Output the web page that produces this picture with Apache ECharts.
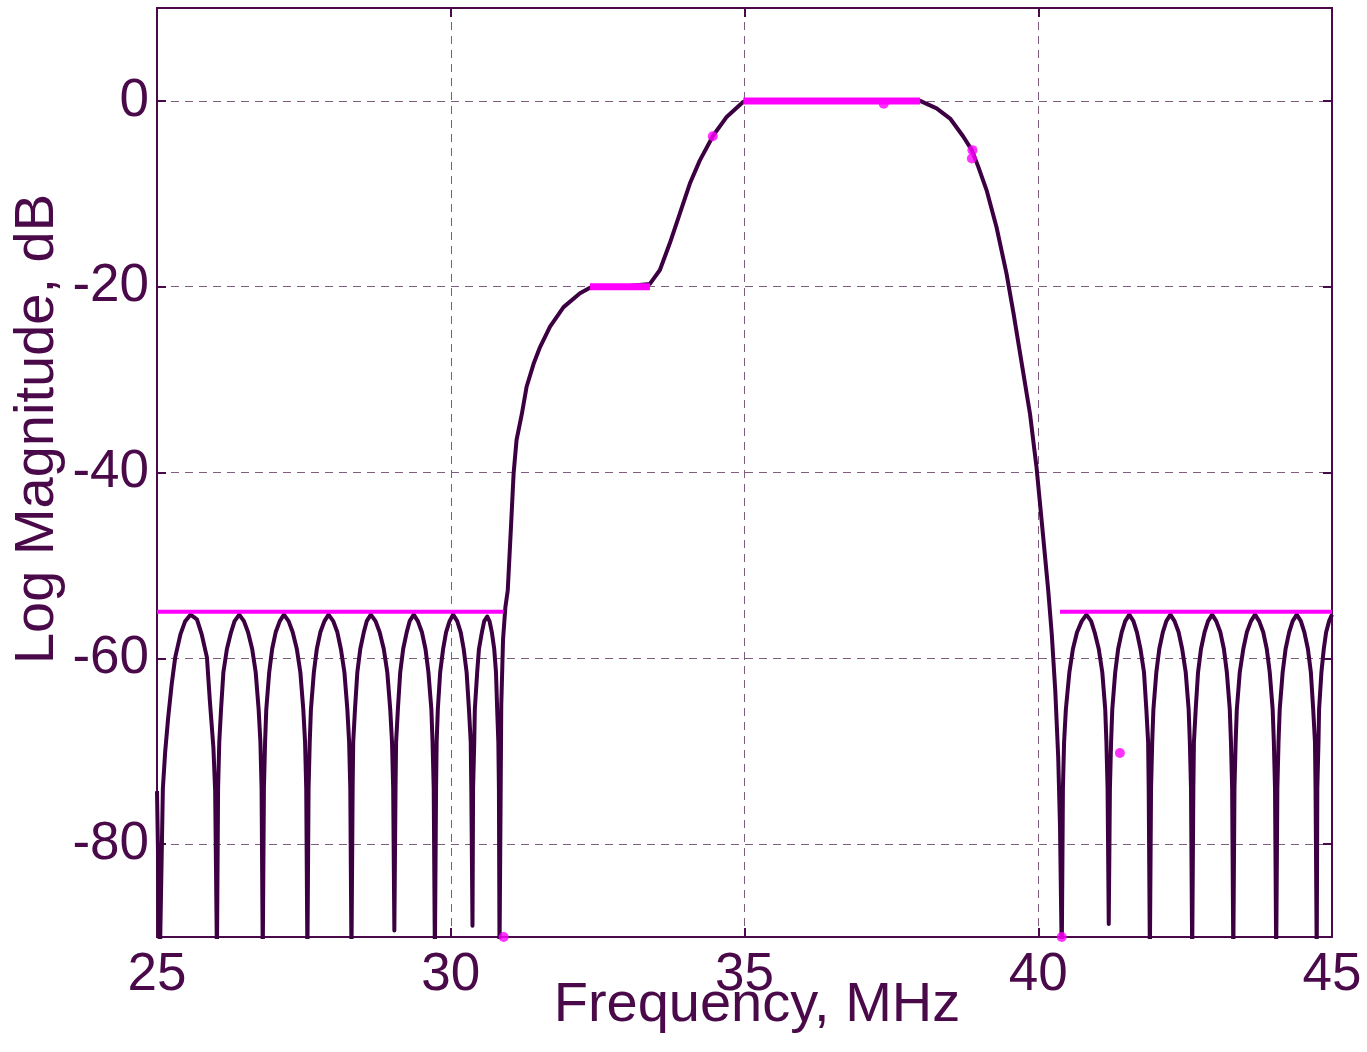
<!DOCTYPE html>
<html>
<head>
<meta charset="UTF-8">
<title>filter response</title>
<style>html,body{margin:0;padding:0;background:#fff}#chart{width:1367px;height:1052px}</style>
<script src="https://cdn.jsdelivr.net/npm/echarts@6/dist/echarts.min.js"></script>
</head>
<body>
<div id="chart"></div>
<script>
// axis ranges / ticks
const xRange = [25, 45];
const yRange = [-90, 10];

// measured response, [MHz, dB] - stopband lobes below 31 MHz
const leftLobes = [
  [25.00,-74.3],[25.03,-86],[25.05,-92],[25.10,-74],[25.14,-70],[25.19,-66.4],[25.25,-62.8],[25.31,-59.9],[25.40,-57.4],[25.48,-56],[25.57,-55.3],
  [25.68,-55.8],[25.76,-57.4],[25.85,-59.9],[25.90,-64.6],[25.96,-69.6],[25.99,-74.3],[26.02,-92],
  [26.04,-74],[26.06,-69],[26.09,-65.5],[26.13,-61.5],[26.19,-59],[26.26,-57.2],[26.32,-56],[26.40,-55.3],
  [26.48,-56],[26.55,-57.2],[26.62,-59],[26.68,-61.5],[26.73,-65.5],[26.76,-69],[26.78,-74],[26.80,-92],
  [26.82,-74],[26.84,-69],[26.86,-65.5],[26.91,-61.5],[26.96,-59],[27.02,-57.2],[27.09,-56],[27.16,-55.3],
  [27.24,-56],[27.31,-57.2],[27.38,-59],[27.44,-61.5],[27.49,-65.5],[27.52,-69],[27.54,-74],[27.56,-92],
  [27.58,-74],[27.60,-69],[27.62,-65.5],[27.67,-61.5],[27.72,-59],[27.78,-57.2],[27.85,-56],[27.92,-55.3],
  [28.00,-56],[28.07,-57.2],[28.13,-59],[28.19,-61.5],[28.24,-65.5],[28.27,-69],[28.29,-74],[28.31,-92],
  [28.33,-74],[28.34,-69],[28.37,-65.5],[28.41,-61.5],[28.46,-59],[28.52,-57.2],[28.57,-56],[28.64,-55.3],
  [28.72,-56],[28.79,-57.2],[28.86,-59],[28.92,-61.5],[28.97,-65.5],[29.00,-69],[29.02,-74],[29.04,-89.3],
  [29.06,-74],[29.07,-69],[29.10,-65.5],[29.14,-61.5],[29.19,-59],[29.25,-57.2],[29.30,-56],[29.37,-55.3],
  [29.44,-56],[29.51,-57.2],[29.57,-59],[29.62,-61.5],[29.67,-65.5],[29.69,-69],[29.71,-74],[29.73,-92],
  [29.75,-74],[29.76,-69],[29.78,-65.5],[29.82,-61.5],[29.87,-59],[29.92,-57.2],[29.98,-56],[30.04,-55.3],
  [30.11,-56],[30.17,-57.2],[30.22,-59],[30.27,-61.5],[30.31,-65.5],[30.34,-69],[30.35,-74],[30.37,-88.8],
  [30.38,-74],[30.40,-69],[30.41,-65.5],[30.45,-61.5],[30.48,-59],[30.53,-57.2],[30.57,-56],[30.62,-55.5],
  [30.66,-56],[30.70,-57.2],[30.74,-59],[30.77,-61.5],[30.79,-65.5],[30.81,-69],[30.82,-74],[30.83,-92]
];

// transition bands and passband
const passBand = [
  [30.86,-65],[30.89,-58],[30.93,-54.5],[30.97,-52.7],[31.02,-46.5],[31.07,-40.1],[31.12,-36.5],[31.21,-33.7],
  [31.29,-30.8],[31.41,-28.3],[31.52,-26.5],[31.69,-24.3],[31.92,-22.2],[32.20,-20.7],[32.37,-20.1],[32.90,-20.0],
  [33.39,-19.7],[33.56,-18.2],[33.73,-15.3],[33.90,-12.1],[34.07,-8.9],[34.24,-6.4],[34.47,-3.7],[34.70,-1.7],
  [34.98,-0.1],[35.50,0],[36.50,0],[37.50,0],[37.99,0],[38.27,-0.8],[38.50,-1.9],[38.72,-3.8],[38.87,-5.3],
  [38.98,-7.1],[39.12,-9.6],[39.29,-13.6],[39.46,-18.6],[39.58,-22.9],[39.72,-28.3],[39.86,-33.7],[39.97,-39.4],
  [40.07,-46],[40.17,-52.7],[40.23,-57.4],[40.29,-63.5],[40.34,-70.7],[40.37,-78],[40.40,-92]
];

// stopband lobes above 40 MHz
const rightLobes = [
  [40.42,-74],[40.44,-69],[40.47,-65.5],[40.53,-61.5],[40.59,-59],[40.66,-57.2],[40.74,-56],[40.82,-55.3],
  [40.90,-56],[40.96,-57.2],[41.03,-59],[41.09,-61.5],[41.14,-65.5],[41.16,-69],[41.18,-74],[41.20,-88.6],
  [41.22,-74],[41.24,-69],[41.26,-65.5],[41.31,-61.5],[41.36,-59],[41.42,-57.2],[41.48,-56],[41.55,-55.3],
  [41.62,-56],[41.68,-57.2],[41.74,-59],[41.80,-61.5],[41.84,-65.5],[41.87,-69],[41.88,-74],[41.90,-92],
  [41.92,-74],[41.94,-69],[41.96,-65.5],[42.01,-61.5],[42.06,-59],[42.12,-57.2],[42.18,-56],[42.25,-55.3],
  [42.32,-56],[42.39,-57.2],[42.45,-59],[42.51,-61.5],[42.56,-65.5],[42.58,-69],[42.60,-74],[42.62,-92],
  [42.64,-74],[42.65,-69],[42.68,-65.5],[42.72,-61.5],[42.77,-59],[42.83,-57.2],[42.89,-56],[42.96,-55.3],
  [43.03,-56],[43.10,-57.2],[43.16,-59],[43.21,-61.5],[43.26,-65.5],[43.28,-69],[43.30,-74],[43.32,-92],
  [43.34,-74],[43.36,-69],[43.38,-65.5],[43.43,-61.5],[43.49,-59],[43.55,-57.2],[43.62,-56],[43.69,-55.3],
  [43.76,-56],[43.83,-57.2],[43.89,-59],[43.94,-61.5],[43.99,-65.5],[44.01,-69],[44.03,-74],[44.05,-92],
  [44.07,-74],[44.09,-69],[44.11,-65.5],[44.16,-61.5],[44.21,-59],[44.27,-57.2],[44.33,-56],[44.40,-55.3],
  [44.47,-56],[44.53,-57.2],[44.59,-59],[44.64,-61.5],[44.68,-65.5],[44.71,-69],[44.72,-74],[44.74,-92],
  [44.75,-74],[44.77,-69],[44.78,-65.5],[44.82,-61.5],[44.86,-59],[44.90,-57.2],[44.95,-56],[45.00,-55.3]
];

// spec mask (magenta)
const stopMaskLeft = [[25, -55], [30.9, -55]];
const stopMaskRight = [[40.37, -55], [45, -55]];
const passMaskLow = [[32.37, -20], [33.39, -20]];
const passMaskHigh = [[34.98, 0], [37.99, 0]];
const markerDots = [[34.46,-3.8],[37.37,-0.3],[38.88,-5.3],[38.87,-6.2],[41.39,-70.2],[30.90,-90],[40.40,-90]];

const textColor = '#4a0a4a';
const curveColor = '#3c0042';
const maskColor = '#ff00ff';
const gridColor = '#7d5c7d';
const fontFamily = '"Liberation Sans", Arial, sans-serif';

const chart = echarts.init(document.getElementById('chart'));

function maskLine(data, width) {
  return {
    type: 'line', data: data, xAxisIndex: 0, yAxisIndex: 0,
    showSymbol: false, symbol: 'none', z: 4, silent: true,
    lineStyle: { color: maskColor, width: width }
  };
}

function boxAxis(pos) {
  // mirrored axis with inside ticks, no labels (closes the box)
  return {
    type: 'value', position: pos,
    min: pos === 'top' ? xRange[0] : yRange[0],
    max: pos === 'top' ? xRange[1] : yRange[1],
    interval: pos === 'top' ? 5 : undefined,
    axisLine: { show: true, onZero: false, lineStyle: { color: textColor, width: 2 } },
    axisTick: { show: true, inside: true, length: 9, lineStyle: { color: textColor, width: 2 } },
    axisLabel: { show: false }, splitLine: { show: false }
  };
}

chart.setOption({
  animation: false,
  backgroundColor: '#fff',
  grid: { left: 157, right: 35, top: 8, bottom: 115, show: true, borderColor: textColor, borderWidth: 2 },
  xAxis: [
    {
      type: 'value', min: xRange[0], max: xRange[1], interval: 5,
      axisLine: { show: true, onZero: false, lineStyle: { color: textColor, width: 2 } },
      axisTick: { show: true, inside: true, length: 9, lineStyle: { color: textColor, width: 2 } },
      axisLabel: { color: textColor, fontSize: 53, fontFamily: fontFamily, margin: 12 },
      splitLine: { show: true, lineStyle: { color: gridColor, width: 1, type: [8, 6] } }
    },
    boxAxis('top')
  ],
  yAxis: [
    {
      type: 'value', min: yRange[0], max: yRange[1],
      axisLine: { show: true, onZero: false, lineStyle: { color: textColor, width: 2 } },
      axisTick: { show: true, inside: true, length: 9, lineStyle: { color: textColor, width: 2 } },
      axisLabel: { color: textColor, fontSize: 53, fontFamily: fontFamily, margin: 8, showMinLabel: false, showMaxLabel: false },
      splitLine: { show: true, lineStyle: { color: gridColor, width: 1, type: [8, 6] } }
    },
    boxAxis('right')
  ],
  graphic: [
    {
      type: 'text', x: 757, y: 1006, silent: true,
      style: { text: 'Frequency, MHz', fill: textColor, font: '56px ' + fontFamily, textAlign: 'center', textVerticalAlign: 'middle' }
    },
    {
      type: 'text', x: 38, y: 429, rotation: Math.PI / 2, silent: true,
      style: { text: 'Log Magnitude, dB', fill: textColor, font: '56px ' + fontFamily, textAlign: 'center', textVerticalAlign: 'middle' }
    }
  ],
  series: [
    {
      type: 'line', data: leftLobes.concat(passBand, rightLobes),
      showSymbol: false, symbol: 'none', z: 3, clip: true, silent: true,
      lineStyle: { color: curveColor, width: 4, join: 'round' }
    },
    maskLine(stopMaskLeft, 4),
    maskLine(stopMaskRight, 4),
    maskLine(passMaskLow, 7),
    maskLine(passMaskHigh, 7),
    {
      type: 'scatter', data: markerDots, symbol: 'circle', symbolSize: 10, z: 5, silent: true,
      itemStyle: { color: maskColor }
    }
  ]
});
</script>
</body>
</html>
